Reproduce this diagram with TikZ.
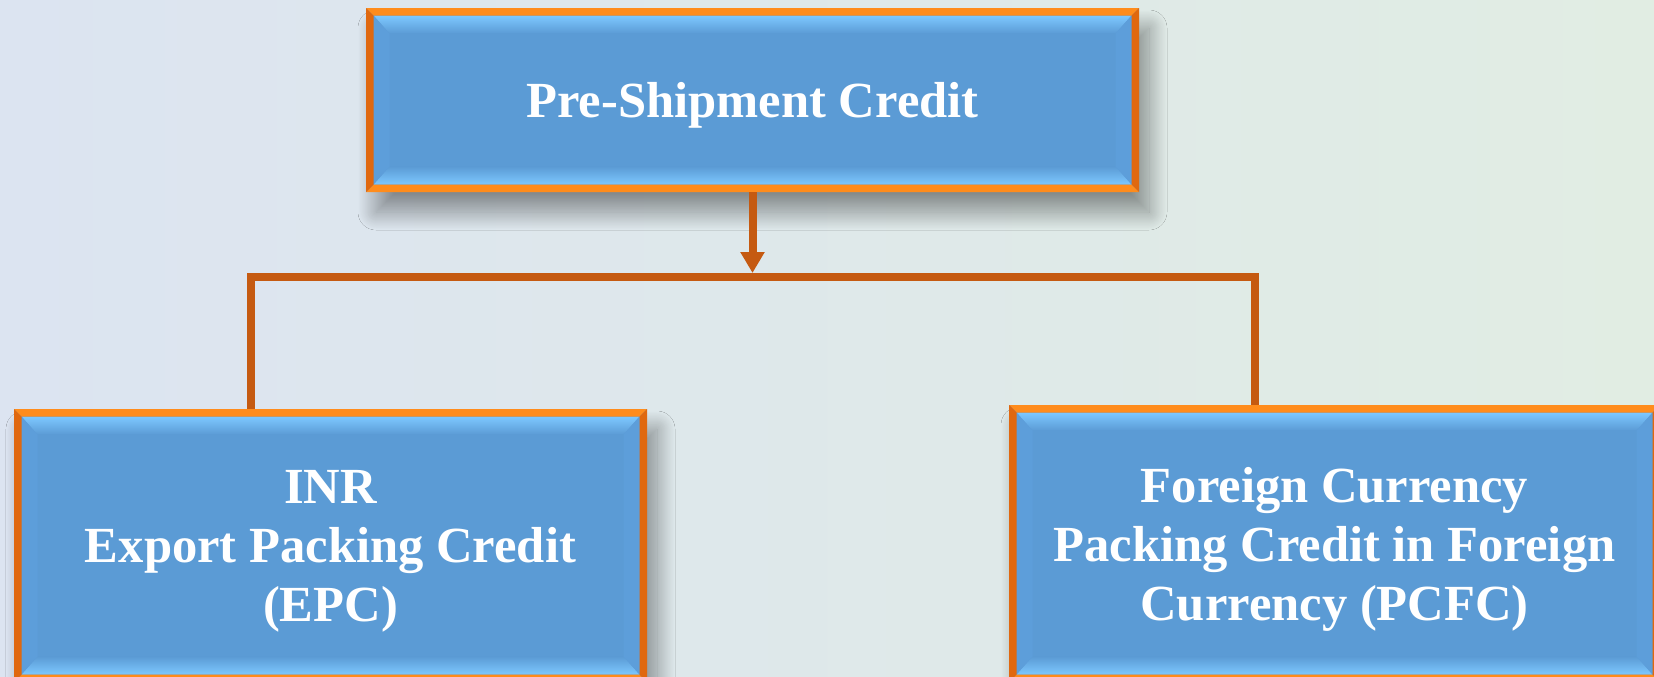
\documentclass[tikz,border=0pt]{standalone}
\usepackage{fontspec}
\setmainfont{Liberation Serif}
\usepackage{tikz}
\usetikzlibrary{arrows.meta,calc,shadows.blur}

\definecolor{boxblue}{HTML}{5B9BD5}
\definecolor{sideblue}{HTML}{5D9EDA}
\definecolor{bevellight}{HTML}{7DC8FF}
\definecolor{rimlight}{HTML}{FF8C1C}
\definecolor{rimdark}{HTML}{E0680F}
\definecolor{linkorange}{HTML}{C55A11}
\definecolor{bgleft}{HTML}{DCE4F1}
\definecolor{bgright}{HTML}{E1EDE3}

\newcommand{\rimw}{3.75pt}
\newcommand{\bevt}{9pt}
\newcommand{\bevs}{8pt}

\tikzset{
  creditbox/.style={fill=boxblue, text=white, align=center, inner sep=0pt, text depth=0pt,
    font=\bfseries\fontsize{25.3}{29.5}\selectfont,
    blur shadow={shadow xshift=5pt, shadow yshift=-10pt, shadow blur radius=9pt, shadow blur steps=25, shadow opacity=40},
    path picture={
      \coordinate (pNW) at (path picture bounding box.north west);
      \coordinate (pNE) at (path picture bounding box.north east);
      \coordinate (pSW) at (path picture bounding box.south west);
      \coordinate (pSE) at (path picture bounding box.south east);
      \coordinate (iNW) at ($(pNW)+(\rimw,-\rimw)$);
      \coordinate (iNE) at ($(pNE)+(-\rimw,-\rimw)$);
      \coordinate (iSW) at ($(pSW)+(\rimw,\rimw)$);
      \coordinate (iSE) at ($(pSE)+(-\rimw,\rimw)$);
      \coordinate (jNW) at ($(iNW)+(\bevs,-\bevt)$);
      \coordinate (jNE) at ($(iNE)+(-\bevs,-\bevt)$);
      \coordinate (jSW) at ($(iSW)+(\bevs,\bevt)$);
      \coordinate (jSE) at ($(iSE)+(-\bevs,\bevt)$);
      % bevel
      \shade[top color=bevellight, bottom color=boxblue] (iNW) -- (iNE) -- (jNE) -- (jNW) -- cycle;
      \shade[top color=boxblue, bottom color=bevellight] (jSW) -- (jSE) -- (iSE) -- (iSW) -- cycle;
      \fill[sideblue] (iNW) -- (jNW) -- (jSW) -- (iSW) -- cycle;
      \fill[sideblue] (iNE) -- (jNE) -- (jSE) -- (iSE) -- cycle;
      % rim
      \fill[rimlight] (pNW) -- (pNE) -- (iNE) -- (iNW) -- cycle;
      \fill[rimlight] (pSW) -- (pSE) -- (iSE) -- (iSW) -- cycle;
      \fill[rimdark] (pNW) -- (iNW) -- (iSW) -- (pSW) -- cycle;
      \fill[rimdark] (pNE) -- (iNE) -- (iSE) -- (pSE) -- cycle;
    }},
  link/.style={draw=linkorange, line width=4pt}
}

\begin{document}
\begin{tikzpicture}[x=0.5pt,y=-0.5pt]
  \clip (0,0) rectangle (1654,676);
  \shade[left color=bgleft, right color=bgright] (0,0) rectangle (1654,676);

  \node[creditbox, minimum width=386.5pt, minimum height=92pt] (pre) at (752.5,100) {Pre-Shipment Credit};
  \node[creditbox, minimum width=316.5pt, minimum height=136.5pt] (epc) at (330.5,545.5) {INR\\Export Packing Credit\\(EPC)};
  \node[creditbox, minimum width=325.5pt, minimum height=138.5pt] (pcfc) at (1334.5,543.5) {Foreign Currency\\Packing Credit in Foreign\\Currency (PCFC)};

  \coordinate (joint) at (752.5,273);
  \coordinate (barL) at (250.5,277);
  \coordinate (barR) at (1255,277);
  \draw[link,-{Triangle[length=10.5pt,width=11.5pt]}] (pre.south) -- (joint);
  \draw[link] (epc.north -| barL) -- (barL) -- (barR) -- (pcfc.north -| barR);
\end{tikzpicture}
\end{document}
